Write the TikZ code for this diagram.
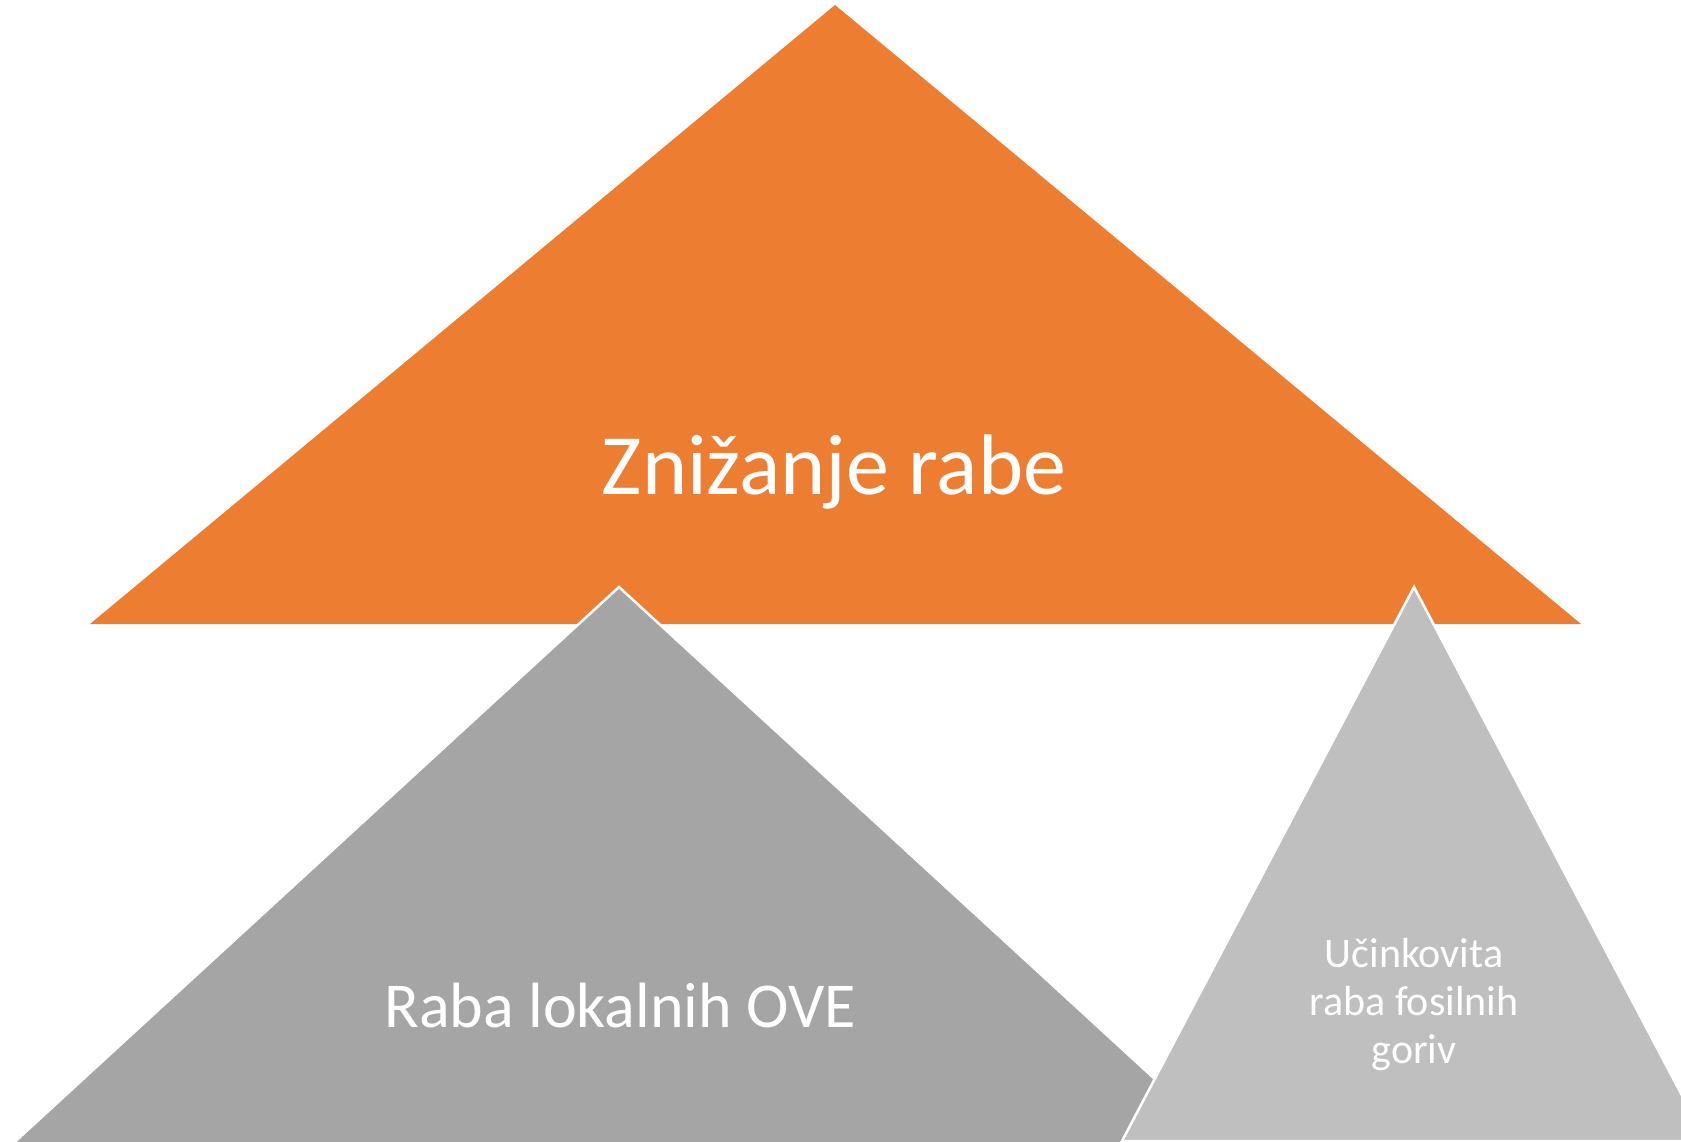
\documentclass[tikz,border=0pt]{standalone}
\usepackage{fontspec}
\setmainfont{Carlito}
\definecolor{orangeA}{HTML}{ED7D31}
\definecolor{grayA}{HTML}{A5A5A5}
\definecolor{grayB}{HTML}{BFBFBF}
\begin{document}
\begin{tikzpicture}[x=1pt,y=-1pt,
  tri/.style={line width=2.5pt,draw=white,line join=miter},
  lbl/.style={text=white,align=center,inner sep=0pt}]
\useasboundingbox (0,0) rectangle (1681,1142);
\clip (0,0) rectangle (1681,1142);
\fill[orangeA] (835,5) -- (1581,624) -- (90,624) -- cycle;
\node[lbl,font=\fontsize{86}{92}\selectfont] (top) at (834,472) {Znižanje rabe};
\filldraw[tri,fill=grayA] (619,587) -- (1243,1160) -- (-5,1160) -- cycle;
\node[lbl,font=\fontsize{64}{70}\selectfont] (left) at (620,1006) {Raba lokalnih OVE};
\filldraw[tri,fill=grayB] (1414,587) -- (1706,1141) -- (1122,1141) -- cycle;
\node[lbl,font=\fontsize{42}{48}\selectfont] (right) at (1414,1005) {Učinkovita\\raba fosilnih\\goriv};
\end{tikzpicture}
\end{document}
